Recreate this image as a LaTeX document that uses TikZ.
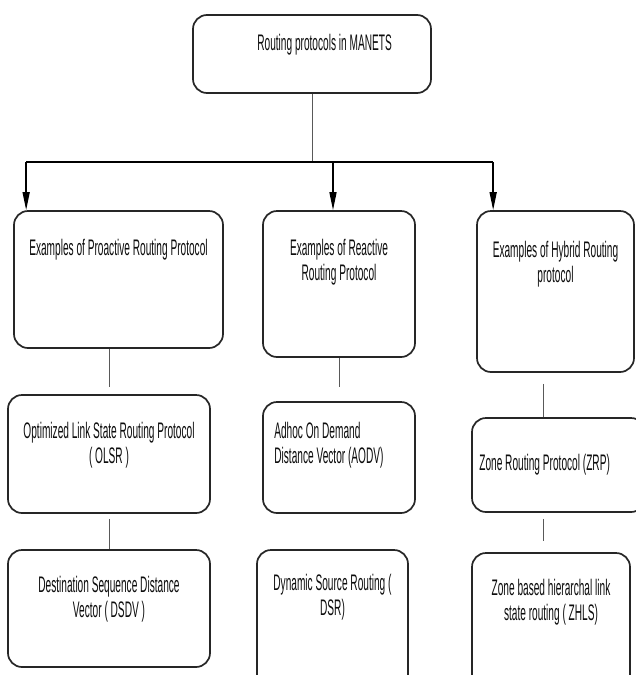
\documentclass[tikz,border=0pt]{standalone}
\usepackage{fontspec}
\setmainfont{Liberation Sans}[FakeStretch=0.45]
\usetikzlibrary{arrows.meta,positioning}
\tikzset{
    proto box/.style={
        draw=black!85,
        line width=1.7pt,
        rounded corners=14pt,
        fill=white,
        inner sep=0pt
    },
    proto text/.style={
        font=\fontsize{22.5}{25}\selectfont,
        text=black!95,
        align=center,
        inner sep=0pt
    },
    proto link/.style={draw=black!65, line width=0.8pt},
    proto bus/.style={draw=black, line width=1.5pt},
    proto arrow/.style={proto bus, -{Triangle[length=18pt,width=7pt]}}
}

\begin{document}
\begin{tikzpicture}[x=1pt, y=-1pt]
\useasboundingbox (0,0) rectangle (635,675);

% root
\node[proto box, minimum width=238pt, minimum height=78pt] (top) at (312,54) {};
\node[proto text, below right=20pt and 65pt of top.north west] (topt) {Routing protocols in MANETS};

% protocol families
\node[proto box, minimum width=209pt, minimum height=137pt] (pro) at (118.5,279.5) {};
\node[proto text, below=29pt of pro.north] (prot) {Examples of Proactive Routing Protocol};
\node[proto box, minimum width=152pt, minimum height=146pt] (rea) at (339,284) {};
\node[proto text, below=29pt of rea.north] (reat) {Examples of Reactive\\Routing Protocol};
\node[proto box, minimum width=157pt, minimum height=161pt] (hyb) at (555.5,291.5) {};
\node[proto text, below=31pt of hyb.north] (hybt) {Examples of Hybrid Routing\\protocol};

% first examples
\node[proto box, minimum width=202pt, minimum height=118pt] (olsr) at (109,454) {};
\node[proto text, below=28pt of olsr.north] (olsrt) {Optimized Link State Routing Protocol\\( OLSR )};
\node[proto box, minimum width=152pt, minimum height=111pt] (aodv) at (339,457.5) {};
\node[proto text, align=left, below right=21pt and 12pt of aodv.north west] (aodvt) {Adhoc On Demand\\Distance Vector (AODV)};
\node[proto box, minimum width=173pt, minimum height=94pt] (zrp) at (558.5,465) {};
\node[proto text, below right=37pt and 8pt of zrp.north west] (zrpt) {Zone Routing Protocol (ZRP)};

% second examples
\node[proto box, minimum width=202pt, minimum height=117pt] (dsdv) at (109,608.5) {};
\node[proto text, below=27pt of dsdv.north] (dsdvt) {Destination Sequence Distance\\Vector ( DSDV )};
\node[proto box, minimum width=151pt, minimum height=155pt] (dsr) at (332.5,627.5) {};
\node[proto text, below=25pt of dsr.north] (dsrt) {Dynamic Source Routing (\\DSR)};
\node[proto box, minimum width=158pt, minimum height=152pt] (zhls) at (551,629) {};
\node[proto text, below=27pt of zhls.north] (zhlst) {Zone based hierarchal link\\state routing ( ZHLS)};

% root to families
\coordinate (bus) at (313,162);
\coordinate (pin1) at ([xshift=13pt]pro.north west);
\coordinate (pin2) at ([xshift=-6pt]rea.north);
\coordinate (pin3) at ([xshift=17pt]hyb.north west);
\draw[proto link] (top.south) -- (top.south |- bus);
\draw[proto bus] (pin1 |- bus) -- (pin3 |- bus);
\foreach \p in {pin1,pin2,pin3}
    \draw[proto arrow] (\p |- bus) -- (\p);

% families to examples
\draw[proto link, shorten >=7pt] (olsr.north |- pro.south) -- (olsr.north);
\draw[proto link, shorten <=5pt] (olsr.south) -- (dsdv.north);
\draw[proto link, shorten >=14pt] (rea.south) -- (aodv.north);
\coordinate (hz) at ([xshift=-12.5pt]hyb.south);
\draw[proto link, shorten <=11pt] (hz) -- (hz |- zrp.north);
\draw[proto link, shorten <=6pt, shorten >=11pt] (hz |- zrp.south) -- (hz |- zhls.north);
\end{tikzpicture}
\end{document}
